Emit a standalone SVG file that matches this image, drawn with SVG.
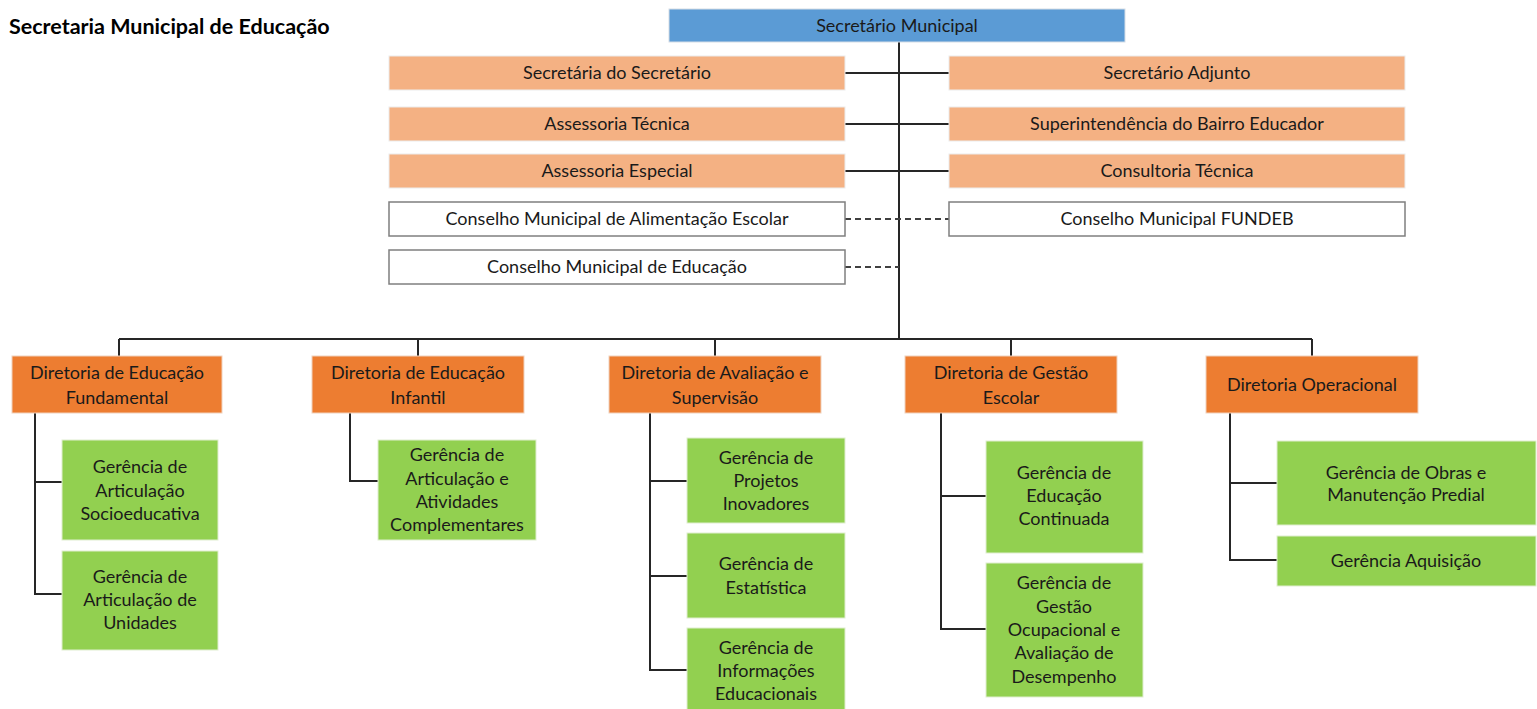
<svg xmlns="http://www.w3.org/2000/svg" width="1537" height="709" viewBox="0 0 1537 709">
<style>
text{font-family:Lato,"Liberation Sans",sans-serif;font-size:18px;fill:#1a1a1a;text-anchor:middle}
.title{font-size:21.5px;font-weight:bold;text-anchor:start;fill:#000}
.blue{fill:#5B9BD5;stroke:#d6dde6;stroke-width:1}
.peach{fill:#F4B183;stroke:#ececec;stroke-width:1}
.white{fill:#fff;stroke:#7f7f7f;stroke-width:1.5}
.dir{fill:#ED7D31;stroke:#f0d2bd;stroke-width:1}
.ger{fill:#92D050;stroke:#dfeecf;stroke-width:1}
.ln{fill:none;stroke:#262626;stroke-width:2}
.dash{fill:none;stroke:#404040;stroke-width:2;stroke-dasharray:6 4}
</style>
<text class="title" x="9" y="34">Secretaria Municipal de Educação</text>
<g id="connectors">
<path class="ln" d="M899 42V339"/>
<path class="ln" d="M845 73H949M845 124H949M845 171H949"/>
<path class="dash" d="M845 219H949M845 267H899"/>
<path class="ln" d="M119 339H1312M119 339V356M418 339V356M715 339V356M1011 339V356M1312 339V356"/>
<path class="ln" d="M35 413V594H62M35 482H62"/>
<path class="ln" d="M350 413V481H378"/>
<path class="ln" d="M650 413V670H687M650 481H687M650 576H687"/>
<path class="ln" d="M941 413V629H986M941 496H986"/>
<path class="ln" d="M1230 413V560H1277M1230 483H1277"/>
</g>
<g id="secretario-municipal"><rect class="blue" x="669" y="9" width="456" height="33"/><text x="897" y="32">Secretário Municipal</text></g>
<g id="secretaria-secretario"><rect class="peach" x="389" y="56" width="456" height="34"/><text x="617" y="79">Secretária do Secretário</text></g>
<g id="assessoria-tecnica"><rect class="peach" x="389" y="107" width="456" height="34"/><text x="617" y="130">Assessoria Técnica</text></g>
<g id="assessoria-especial"><rect class="peach" x="389" y="154" width="456" height="34"/><text x="617" y="177">Assessoria Especial</text></g>
<g id="cons-alimentacao"><rect class="white" x="389" y="202" width="456" height="34"/><text x="617" y="225">Conselho Municipal de Alimentação Escolar</text></g>
<g id="cons-educacao"><rect class="white" x="389" y="250" width="456" height="34"/><text x="617" y="273">Conselho Municipal de Educação</text></g>
<g id="secretario-adjunto"><rect class="peach" x="949" y="56" width="456" height="34"/><text x="1177" y="79">Secretário Adjunto</text></g>
<g id="superintendencia"><rect class="peach" x="949" y="107" width="456" height="34"/><text x="1177" y="130">Superintendência do Bairro Educador</text></g>
<g id="consultoria-tecnica"><rect class="peach" x="949" y="154" width="456" height="34"/><text x="1177" y="177">Consultoria Técnica</text></g>
<g id="cons-fundeb"><rect class="white" x="949" y="202" width="456" height="34"/><text x="1177" y="225">Conselho Municipal FUNDEB</text></g>

<g id="dir-fundamental"><rect class="dir" x="12" y="356" width="210" height="57"/><text x="117" y="379">Diretoria de Educação</text><text x="117" y="404">Fundamental</text></g>
<g id="dir-infantil"><rect class="dir" x="312" y="356" width="212" height="57"/><text x="418" y="379">Diretoria de Educação</text><text x="418" y="404">Infantil</text></g>
<g id="dir-avaliacao"><rect class="dir" x="609" y="356" width="212" height="57"/><text x="715" y="379">Diretoria de Avaliação e</text><text x="715" y="404">Supervisão</text></g>
<g id="dir-gestao"><rect class="dir" x="905" y="356" width="212" height="57"/><text x="1011" y="379">Diretoria de Gestão</text><text x="1011" y="404">Escolar</text></g>
<g id="dir-operacional"><rect class="dir" x="1206" y="356" width="212" height="57"/><text x="1312" y="391">Diretoria Operacional</text></g>

<g id="ger-socioeducativa"><rect class="ger" x="62" y="440" width="156" height="100"/><text x="140" y="473">Gerência de</text><text x="140" y="497">Articulação</text><text x="140" y="520">Socioeducativa</text></g>
<g id="ger-unidades"><rect class="ger" x="62" y="551" width="156" height="99"/><text x="140" y="583">Gerência de</text><text x="140" y="606">Articulação de</text><text x="140" y="629">Unidades</text></g>
<g id="ger-atividades"><rect class="ger" x="378" y="440" width="158" height="100"/><text x="457" y="461">Gerência de</text><text x="457" y="485">Articulação e</text><text x="457" y="508">Atividades</text><text x="457" y="531">Complementares</text></g>
<g id="ger-projetos"><rect class="ger" x="687" y="438" width="158" height="85"/><text x="766" y="464">Gerência de</text><text x="766" y="487">Projetos</text><text x="766" y="510">Inovadores</text></g>
<g id="ger-estatistica"><rect class="ger" x="687" y="533" width="158" height="85"/><text x="766" y="570">Gerência de</text><text x="766" y="594">Estatística</text></g>
<g id="ger-informacoes"><rect class="ger" x="687" y="628" width="158" height="85"/><text x="766" y="654">Gerência de</text><text x="766" y="677">Informações</text><text x="766" y="700">Educacionais</text></g>
<g id="ger-continuada"><rect class="ger" x="986" y="441" width="157" height="112"/><text x="1064" y="479">Gerência de</text><text x="1064" y="502">Educação</text><text x="1064" y="525">Continuada</text></g>
<g id="ger-ocupacional"><rect class="ger" x="986" y="563" width="157" height="134"/><text x="1064" y="589">Gerência de</text><text x="1064" y="613">Gestão</text><text x="1064" y="636">Ocupacional e</text><text x="1064" y="659">Avaliação de</text><text x="1064" y="683">Desempenho</text></g>
<g id="ger-obras"><rect class="ger" x="1277" y="441" width="259" height="84"/><text x="1406" y="479">Gerência de Obras e</text><text x="1406" y="501">Manutenção Predial</text></g>
<g id="ger-aquisicao"><rect class="ger" x="1277" y="536" width="259" height="50"/><text x="1406" y="567">Gerência Aquisição</text></g>
</svg>
